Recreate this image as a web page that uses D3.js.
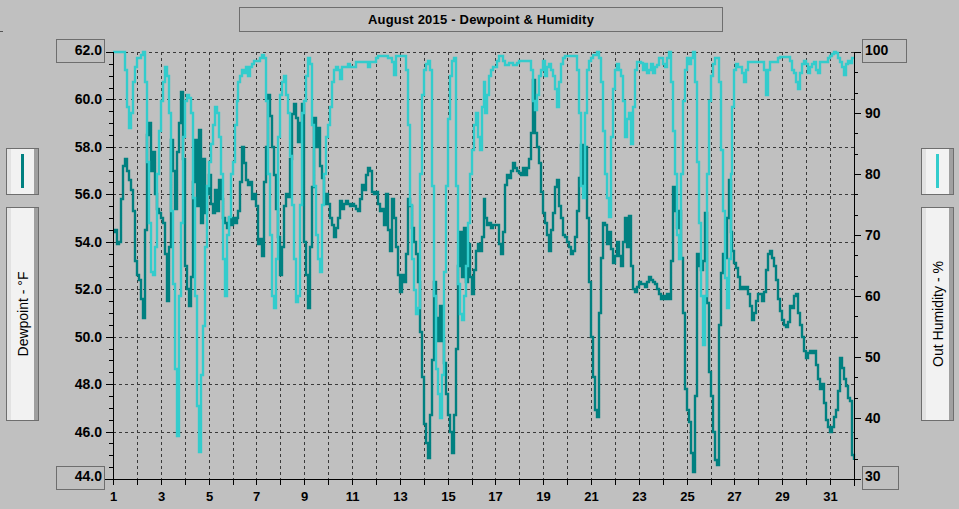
<!DOCTYPE html>
<html lang="en">
<head>
<meta charset="UTF-8">
<title>August 2015 - Dewpoint &amp; Humidity</title>
<script src="https://d3js.org/d3.v7.min.js"></script>
<style>
  body { margin: 0; background: #c0c0c0; }
  svg { display: block; font-family: "Liberation Sans", Arial, sans-serif; }
</style>
</head>
<body>
<div id="chart"></div>
<script>
// readings every 2 hours, 12 per day, Aug 1 00:00 -> Sep 1 00:00
const pointsPerDay = 12;

const dewpoint = [
  54.4, 54.5, 53.9, 54.0, 55.8, 57.2, 57.5, 57.0, 56.6, 56.2, 55.3, 53.2,
  52.6, 52.4, 51.6, 50.8, 54.5, 58.5, 59.0, 57.0, 57.8, 56.0, 55.4, 55.2,
  55.0, 54.8, 53.5, 51.5, 53.8, 58.3, 57.0, 55.4, 57.8, 59.0, 60.3, 57.5,
  53.0, 52.0, 51.3, 52.5, 56.5, 58.3, 55.5, 58.7, 54.8, 57.5, 55.2, 56.0,
  56.8, 55.6, 55.2, 56.2, 55.3, 56.6, 55.8, 55.0, 54.8, 54.6, 55.0, 54.7,
  55.0, 54.8, 55.0, 55.3, 56.5, 58.0, 57.3, 56.6, 56.4, 56.5, 55.8, 56.0,
  55.5, 53.9, 54.1, 53.4, 56.5, 58.0, 60.2, 59.3, 58.0, 56.8, 55.4, 54.2,
  52.6, 53.8, 55.5, 56.0, 55.9, 57.5, 59.4, 59.8, 59.2, 58.2, 59.0, 59.8,
  54.0, 52.6, 51.2, 53.8, 56.3, 59.2, 58.0, 58.8, 57.2, 56.7, 55.6, 56.0,
  55.6, 55.0, 54.7, 54.2, 54.6, 55.0, 55.7, 55.4, 55.6, 55.7, 55.6, 55.5,
  55.6, 55.5, 55.4, 55.3, 55.8, 56.4, 56.2, 56.8, 57.1, 57.0, 56.1, 56.0,
  56.1, 55.6, 55.3, 55.4, 54.7, 56.0, 54.5, 53.6, 55.8, 55.0, 53.8, 52.6,
  51.9, 52.6, 52.3, 53.5, 55.8, 55.5, 54.6, 54.0, 53.5, 52.3, 50.2, 48.3,
  46.3, 45.5, 44.9, 46.7, 49.0, 52.3, 50.8, 49.8, 51.3, 49.8, 48.9, 47.6,
  46.7, 46.0, 45.1, 46.7, 49.5, 53.0, 54.4, 52.5, 54.6, 52.3, 53.9, 52.5,
  51.8, 52.8, 53.6, 53.9, 53.6, 54.2, 55.8, 55.0, 54.7, 54.8, 54.6, 54.7,
  54.7, 54.7, 53.9, 53.5, 54.4, 56.4, 56.8, 56.7, 57.0, 57.3, 57.1, 57.0,
  56.9, 56.8, 57.1, 56.8, 57.1, 57.5, 58.6, 60.8, 58.6, 58.0, 57.3, 56.1,
  55.2, 54.8, 54.3, 53.6, 54.5, 55.2, 56.3, 56.6, 55.5, 55.0, 54.3, 54.2,
  54.0, 53.8, 53.5, 53.6, 54.2, 55.3, 56.7, 58.1, 56.4, 58.0, 55.0, 52.3,
  50.0, 48.3, 46.9, 46.6, 51.0, 53.3, 54.8, 54.7, 53.9, 54.4, 53.7, 53.1,
  53.4, 54.0, 53.4, 53.0, 54.0, 55.0, 53.8, 55.1, 53.0, 52.0, 51.9, 52.1,
  52.3, 52.2, 52.2, 52.1, 52.3, 52.5, 52.4, 52.3, 52.2, 52.0, 51.8, 51.6,
  51.7, 51.6, 51.8, 51.6, 53.2, 56.3, 55.3, 54.6, 55.3, 53.3, 51.0, 47.8,
  46.9, 46.4, 45.1, 44.3, 47.5, 53.5, 53.0, 52.8, 53.2, 55.2, 51.4, 48.5,
  47.5, 46.0, 44.8, 44.6, 50.5, 52.7, 53.5, 53.3, 55.0, 56.6, 54.4, 53.6,
  53.1, 52.9, 52.5, 52.0, 52.1, 52.0, 52.1, 51.8, 51.3, 50.7, 51.0, 51.5,
  51.8, 51.8, 51.5, 51.9, 52.8, 53.5, 53.6, 53.3, 53.0, 52.4, 51.6, 51.1,
  50.7, 50.5, 50.4, 50.6, 51.3, 51.2, 51.7, 51.8, 51.0, 50.5, 50.0, 49.4,
  49.1, 49.3, 49.4, 49.3, 49.4, 48.8, 48.2, 47.8, 48.0, 47.2, 46.5, 46.2,
  46.0, 46.2, 46.6, 46.9, 47.7, 49.1, 48.7, 48.2, 47.9, 47.4, 47.3, 45.0,
  44.8
];

const humidity = [
  100, 100, 100, 100, 100, 100, 97, 91, 87.5, 90, 95, 97.5,
  99, 99, 99.5, 100, 95, 82, 72, 64, 63.5, 68, 80, 87,
  92, 95, 97.5, 96, 90, 74, 62, 48, 37, 60, 72, 86,
  92, 93, 92.5, 90, 76, 60, 42, 34.5, 47, 55, 68, 78,
  82, 85, 88, 91, 90, 86, 80, 66, 60, 70, 73, 80,
  82, 88, 92, 95, 96, 97, 96.5, 97.5, 96, 97.5, 98, 98.5,
  98.5, 98.5, 99, 99.5, 99, 92, 80, 70, 60, 58, 66, 86,
  93, 95, 96, 93, 90, 83, 75, 66, 59, 60, 75, 90,
  92, 96, 99, 98, 88, 78, 70, 66, 64, 75, 80, 86,
  88, 91, 95, 97, 97.5, 97, 95.5, 97.5, 97.5, 97.5, 98, 97.5,
  97.5, 97.5, 98.4, 98.4, 98.4, 98.4, 98.4, 98.4, 97.5, 98.4, 98.4, 98.4,
  99, 99.3, 99.3, 99.3, 99.3, 99.3, 99, 99, 98.4, 96.3, 99.3, 99.3,
  99.3, 99.3, 99.3, 97, 88, 75, 66, 61, 57, 58, 80, 93,
  97, 98, 98.5, 97, 78, 60, 48, 44, 40, 47, 64, 78,
  89, 96, 98.5, 99, 78, 62, 57, 56, 60, 65, 72, 80,
  84, 88, 90, 86, 84, 91, 95, 90, 93, 96, 97, 97.5,
  97.5, 98.5, 99.3, 99.3, 98.5, 97.9, 97.9, 98.2, 98.2, 97.9, 97.9, 98.2,
  98.5, 98.5, 98.5, 98.5, 98.5, 98.5, 97, 92, 90.5, 93, 96, 97,
  98.5, 96, 97.5, 98, 97, 96, 94, 91, 95, 98, 99, 99.3,
  99.3, 99.3, 99.3, 99.3, 99.3, 97, 90, 78, 76, 90, 97, 98.5,
  99, 99.5, 99.5, 100, 99, 95, 87, 80, 76, 73, 86, 94,
  97, 98, 97, 96, 92, 86, 89, 90, 85, 91, 97, 98.4,
  98.4, 98.2, 97, 98, 96.5, 97, 98, 96.5, 97.5, 97.8, 99, 99,
  98, 97.5, 99, 100, 95, 87, 80, 70, 66, 80, 92, 97,
  99, 98, 99, 100, 95, 82, 72, 60, 52, 60, 80, 92,
  96, 98, 99, 99, 95, 84, 74, 63, 58, 66, 80, 91,
  97, 98, 97.5, 97.5, 96.5, 95, 97, 98.4, 98.4, 98.4, 98.4, 98.4,
  98.4, 98.4, 98.4, 97, 93, 97, 98.4, 98.4, 98.4, 98.4, 99, 99.2,
  99.2, 99.2, 99.2, 99.2, 98.5, 97, 96.5, 95, 94, 96.5, 98, 98.5,
  98, 96.5, 97.5, 98, 98.4, 97, 96.5, 98.4, 98.4, 98.4, 98.4, 99,
  99.3, 99.6, 100, 99.8, 99, 98.4, 97.5, 96.3, 98, 98.5, 98.2, 99,
  99
];

const dayTicks = d3.range(1, 33);
const dayLabels = d3.range(1, 32, 2);
const dewTicks = d3.range(44, 62.01, 2);
const dewMinor = d3.range(44, 62.01, 0.5);
const humTicks = d3.range(30, 100.01, 10);
const humMinor = d3.range(30, 100.01, 10 / 3);

const width = 959, height = 509;
const plot = { left: 113, right: 854, top: 52, bottom: 479 };
const dewColor = "#008080", humColor = "#33cccc";

const svg = d3.select("#chart").append("svg")
    .attr("width", width)
    .attr("height", height);

const x = d3.scaleLinear().domain([1, 32]).rangeRound([plot.left, plot.right]);
const yDew = d3.scaleLinear().domain([44, 62]).rangeRound([plot.bottom, plot.top]);
const yHum = d3.scaleLinear().domain([30, 100]).rangeRound([plot.bottom, plot.top]);

// tiny mark top left
svg.append("line").attr("x1", 0).attr("x2", 3).attr("y1", 31.5).attr("y2", 31.5)
    .attr("stroke", "#555");

// title box
svg.append("rect")
    .attr("x", 239.5).attr("y", 7.5).attr("width", 483).attr("height", 24)
    .attr("fill", "none").attr("stroke", "#6e6e6e");
svg.append("text")
    .attr("x", 481).attr("y", 23.5)
    .attr("text-anchor", "middle")
    .style("font-size", "13px").style("font-weight", "bold")
    .style("letter-spacing", "0.2px")
    .text("August 2015 - Dewpoint & Humidity");

// grid
const grid = svg.append("g")
    .attr("stroke", "#3a3a3a").attr("stroke-dasharray", "3,3").attr("stroke-width", 1);
grid.selectAll(".hgrid").data(dewTicks.filter(d => d > 44)).join("line")
    .attr("x1", plot.left).attr("x2", plot.right)
    .attr("y1", d => yDew(d) + 0.5).attr("y2", d => yDew(d) + 0.5);
grid.selectAll(".vgrid").data(dayTicks.filter(d => d > 1 && d < 32)).join("line")
    .attr("x1", d => x(d) + 0.5).attr("x2", d => x(d) + 0.5)
    .attr("y1", plot.top).attr("y2", plot.bottom);

// series
const tOf = i => 1 + i / pointsPerDay;
const dewLine = d3.line().curve(d3.curveStepAfter)
    .x((d, i) => x(tOf(i))).y(d => yDew(d));
const humLine = d3.line().curve(d3.curveStepAfter)
    .x((d, i) => x(tOf(i))).y(d => yHum(d));

svg.append("path").datum(dewpoint)
    .attr("d", dewLine)
    .attr("fill", "none").attr("stroke", dewColor).attr("stroke-width", 2.4);
svg.append("path").datum(humidity)
    .attr("d", humLine)
    .attr("fill", "none").attr("stroke", humColor).attr("stroke-width", 2.4);

// left axis
const leftG = svg.append("g").attr("transform", `translate(${plot.left},0)`);
leftG.call(d3.axisLeft(yDew).tickValues(dewMinor).tickSize(4).tickFormat(""));
leftG.append("g").call(d3.axisLeft(yDew).tickValues(dewTicks).tickSize(7).tickPadding(4)
    .tickFormat(d3.format(".1f")));
leftG.selectAll(".domain").remove();

// right axis
const rightG = svg.append("g").attr("transform", `translate(${plot.right},0)`);
rightG.call(d3.axisRight(yHum).tickValues(humMinor).tickSize(4).tickFormat(""));
rightG.append("g").call(d3.axisRight(yHum).tickValues(humTicks).tickSize(7).tickPadding(4)
    .tickFormat(d3.format("d")));
rightG.selectAll(".domain").remove();

// bottom axis
const bottomG = svg.append("g").attr("transform", `translate(0,${plot.bottom})`);
bottomG.call(d3.axisBottom(x).tickValues(dayTicks).tickSize(6).tickPadding(7)
    .tickFormat(d => dayLabels.includes(d) ? d : ""));
bottomG.selectAll(".domain").remove();

svg.selectAll(".tick line").attr("stroke", "#000");
svg.selectAll(".tick text")
    .attr("fill", "#000")
    .style("font-family", "'Liberation Sans', Arial, sans-serif")
    .style("font-weight", "bold")
    .style("font-size", "14px");
bottomG.selectAll(".tick text").style("font-size", "13px").attr("dy", "0.71em");

// end labels sit inside their boxes
leftG.selectAll(".tick text").filter(d => d === 62).attr("dy", "0.15em");
leftG.selectAll(".tick text").filter(d => d === 44).attr("dy", "0.1em");
rightG.selectAll(".tick text").filter(d => d === 100).attr("dy", "0.15em");
rightG.selectAll(".tick text").filter(d => d === 30).attr("dy", "0.1em");

// axis lines
const axisLines = svg.append("g").attr("stroke", "#000").attr("stroke-width", 1);
axisLines.append("line")
    .attr("x1", plot.left + 0.5).attr("x2", plot.left + 0.5)
    .attr("y1", plot.top).attr("y2", plot.bottom + 6);
axisLines.append("line")
    .attr("x1", plot.right + 0.5).attr("x2", plot.right + 0.5)
    .attr("y1", plot.top).attr("y2", plot.bottom + 7);
axisLines.append("line")
    .attr("x1", 104).attr("x2", plot.right + 1)
    .attr("y1", plot.bottom + 0.5).attr("y2", plot.bottom + 0.5);

// value boxes at the axis ends
const boxes = [
    { x: 56.5, y: 39.5, w: 48, h: 23 },
    { x: 56.5, y: 466.5, w: 48, h: 23 },
    { x: 862.5, y: 39.5, w: 44, h: 23 },
    { x: 862.5, y: 466.5, w: 36, h: 23 }
];
svg.selectAll(".endbox").data(boxes).join("rect")
    .attr("x", d => d.x).attr("y", d => d.y)
    .attr("width", d => d.w).attr("height", d => d.h)
    .attr("fill", "none").attr("stroke", "#6e6e6e");

// legend panels
function panel(px, py, pw, ph) {
    const g = svg.append("g");
    g.append("rect").attr("x", px).attr("y", py).attr("width", pw).attr("height", ph)
        .attr("fill", "#f2f2f2");
    g.append("rect").attr("x", px).attr("y", py).attr("width", 4).attr("height", ph)
        .attr("fill", "#e2e2e2");
    g.append("rect").attr("x", px + pw - 4).attr("y", py).attr("width", 4).attr("height", ph)
        .attr("fill", "#a0a0a0");
    g.append("rect").attr("x", px - 0.5).attr("y", py - 0.5).attr("width", pw + 1).attr("height", ph + 1)
        .attr("fill", "none").attr("stroke", "#6e6e6e");
    return g;
}

const legends = [
    { x: 7, color: dewColor, label: "Dewpoint - °F" },
    { x: 922, color: humColor, label: "Out Humidity - %" }
];
legends.forEach(l => {
    panel(l.x, 149, 31, 45).append("line")
        .attr("x1", l.x + 15.5).attr("x2", l.x + 15.5)
        .attr("y1", 154).attr("y2", 188)
        .attr("stroke", l.color).attr("stroke-width", 3);
    panel(l.x, 208, 31, 212).append("text")
        .attr("transform", `translate(${l.x + 21},314) rotate(-90)`)
        .attr("text-anchor", "middle")
        .attr("fill", "#000")
        .style("font-size", "14px")
        .text(l.label);
});
</script>
</body>
</html>
